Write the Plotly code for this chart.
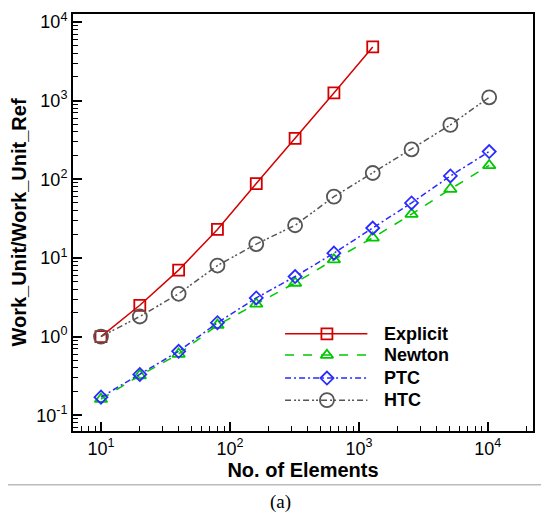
import plotly.graph_objects as go
import numpy as np

elements = [10, 20, 40, 80, 160, 320, 640, 1280, 2560, 5120, 10240]
explicit = [1.0, 2.5, 7.0, 23, 88, 330, 1250, 4800]
newton = [0.16, 0.32, 0.60, 1.4, 2.6, 4.8, 9.5, 18, 36, 75, 150]
ptc = [0.17, 0.33, 0.65, 1.5, 3.1, 5.8, 11.5, 24, 50, 110, 225]
htc = [1.0, 1.8, 3.5, 8.0, 15, 26, 60, 120, 240, 490, 1100]

series = [
    ("Explicit", explicit, "#d40000", "solid", "square-open", 11),
    ("Newton", newton, "#00c800", "dash", "triangle-up-open", 11),
    ("PTC", ptc, "#2a2aff", "6px,3px,2px,3px", "diamond-open", 10),
    ("HTC", htc, "#555555", "6px,3px,2px,2px,2px,3px", "circle-open", 14),
]

fig = go.Figure()
for name, ys, col, dash, sym, sz in series:
    fig.add_trace(go.Scatter(
        x=elements[:len(ys)], y=ys, mode="lines+markers", name=name,
        line=dict(color=col, width=1.5, dash=dash),
        marker=dict(symbol=sym, size=sz, color=col, line=dict(width=1.8, color=col)),
        showlegend=False))

# legend samples on an overlay axis
leg_y = [0.233, 0.182, 0.127, 0.074]
for (name, ys, col, dash, sym, sz), ly in zip(series, leg_y):
    fig.add_trace(go.Scatter(
        x=[0.461, 0.552, 0.640], y=[ly, ly, ly], xaxis="x2", yaxis="y2",
        mode="lines", line=dict(color=col, width=1.5, dash=dash),
        showlegend=False, hoverinfo="skip"))
    fig.add_trace(go.Scatter(
        x=[0.552], y=[ly], xaxis="x2", yaxis="y2", mode="markers",
        marker=dict(symbol=sym, size=sz, color=col, line=dict(width=1.8, color=col)),
        showlegend=False, hoverinfo="skip"))
    fig.add_annotation(x=0.672, y=ly, xref="x2", yref="y2", text="<b>%s</b>" % name,
                       showarrow=False, xanchor="left", yanchor="middle",
                       font=dict(family="Liberation Sans, Arial", size=18, color="black"))

def minor_vals(lo, hi):
    out = []
    for e in range(lo, hi + 1):
        for m in range(2, 10):
            out.append(m * 10 ** e)
    return out

xt = [10, 100, 1000, 10000]
yt = [0.1, 1, 10, 100, 1000, 10000]

fig.update_layout(
    width=541, height=507,
    margin=dict(l=65, r=16, t=6, b=84),
    paper_bgcolor="white", plot_bgcolor="white",
    font=dict(family="Liberation Sans, Arial", size=17, color="black"),
    xaxis=dict(
        type="log", range=[0.783, 4.35], automargin=False,
        tickvals=xt, ticktext=["10<sup>%d</sup>" % e for e in [1, 2, 3, 4]],
        ticks="inside", ticklen=9, tickwidth=1.5, tickcolor="black",
        minor=dict(tickvals=minor_vals(0, 4), ticks="inside", ticklen=5, tickwidth=1, tickcolor="black"),
        showline=True, linecolor="black", linewidth=2, mirror=True,
        showgrid=False, zeroline=False,
        title=dict(text="<b>No. of Elements</b>", font=dict(size=20), standoff=2),
        tickfont=dict(size=18),
    ),
    yaxis=dict(
        type="log", range=[-1.2, 4.1], automargin=False,
        tickvals=yt, ticktext=["10<sup>%d</sup>" % e for e in [-1, 0, 1, 2, 3, 4]],
        ticks="inside", ticklen=9, tickwidth=1.5, tickcolor="black",
        minor=dict(tickvals=minor_vals(-2, 4), ticks="inside", ticklen=5, tickwidth=1, tickcolor="black"),
        showline=True, linecolor="black", linewidth=2, mirror=True,
        showgrid=False, zeroline=False,
        title=dict(text="<b>Work_Unit/Work_Unit_Ref</b>", font=dict(size=20), standoff=4),
        tickfont=dict(size=18),
    ),
    xaxis2=dict(overlaying="x", range=[0, 1], visible=False, fixedrange=True),
    yaxis2=dict(overlaying="y", range=[0, 1], visible=False, fixedrange=True),
)

fig.add_shape(type="line", xref="paper", yref="paper", x0=-0.2, x1=1.1,
              y0=-0.129, y1=-0.129, line=dict(color="#bbbbbb", width=1.5))
fig.add_annotation(x=0.45, y=-0.170, xref="paper", yref="paper", text="(a)",
                   showarrow=False, xanchor="center", yanchor="middle",
                   font=dict(family="Liberation Serif, Times New Roman", size=19, color="black"))

fig.write_html("out.html")
